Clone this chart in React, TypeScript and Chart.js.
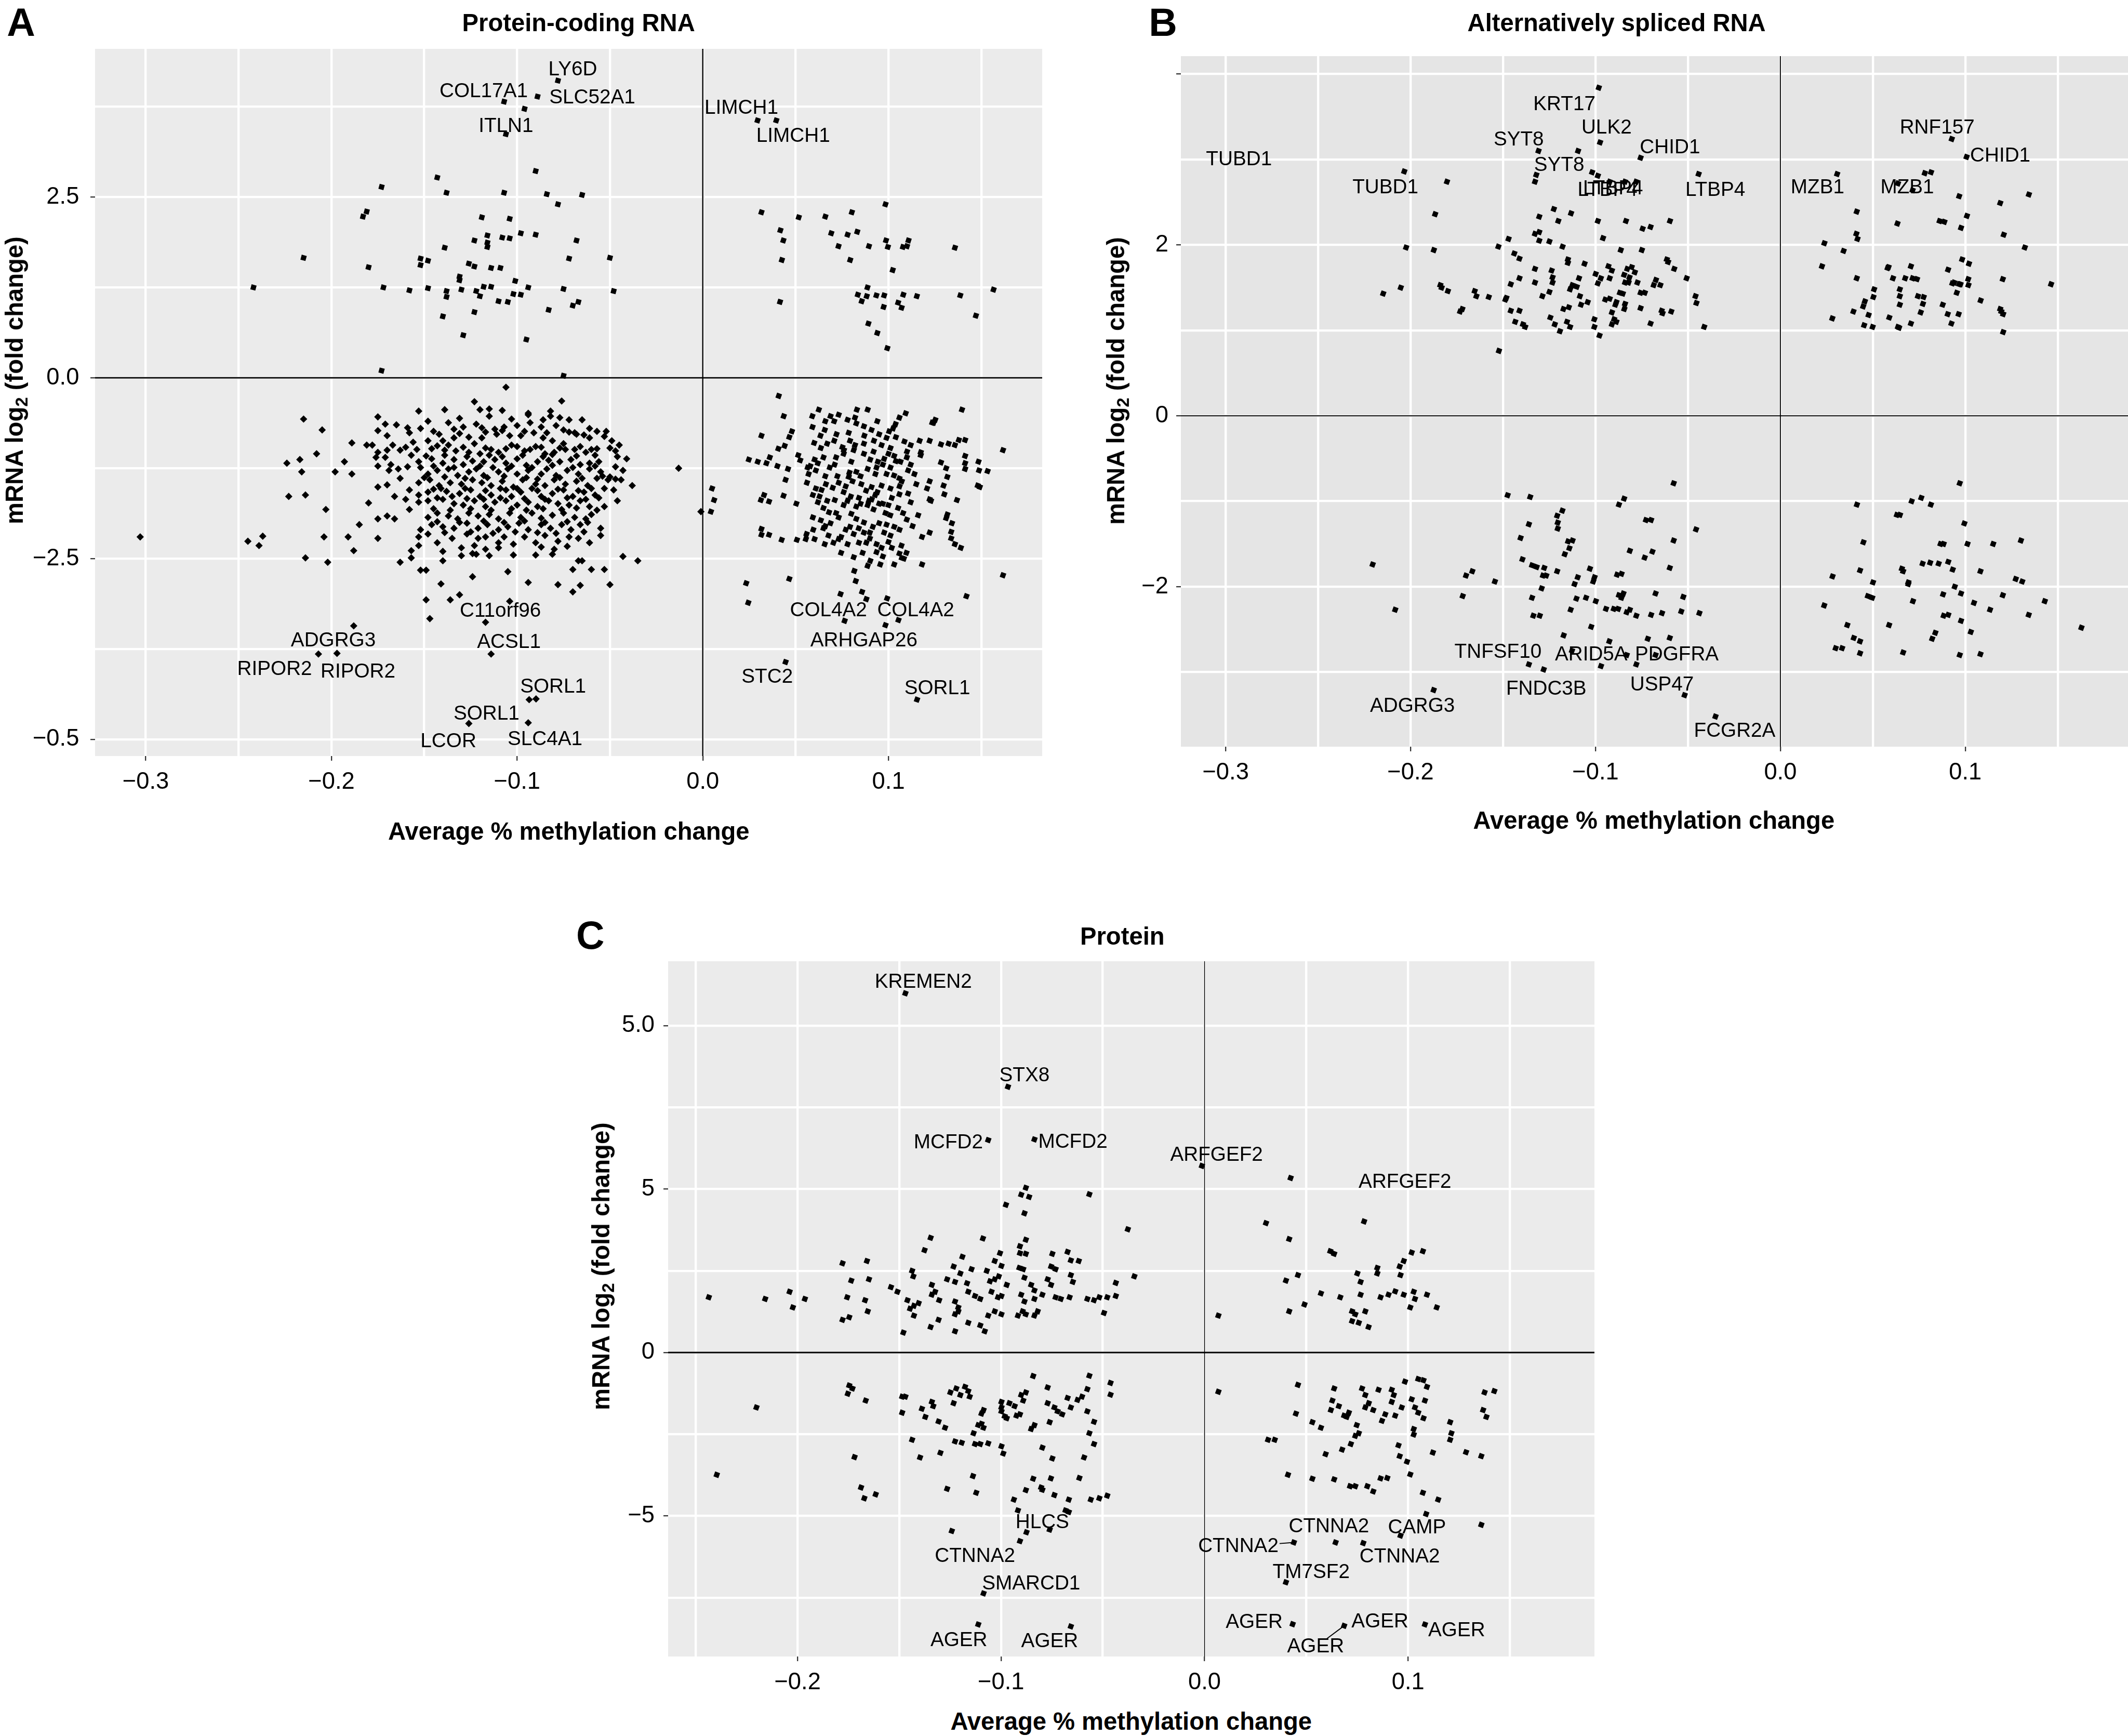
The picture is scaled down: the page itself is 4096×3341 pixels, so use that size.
import React, { useEffect, useRef } from 'react';
import { Chart, registerables } from 'chart.js';

Chart.register(...registerables);

const S = 4096 / 4340;
const FONT = '"Liberation Sans", Arial, Helvetica, sans-serif';

type Pt = [number, number];
type Lbl = { gene: string; x: number; y: number; px?: number; py?: number };

// ---------------- Panel A : Protein-coding RNA ----------------
const A_TOP_LEFT: Pt[] = [
  [-0.078, 4.11], [-0.089, 3.89], [-0.107, 3.82], [-0.096, 3.72], [-0.106, 3.37],
  [-0.090, 2.86], [-0.143, 2.77], [-0.173, 2.64], [-0.138, 2.56], [-0.107, 2.56], [-0.084, 2.54], [-0.065, 2.53], [-0.078, 2.40],
  [-0.181, 2.30], [-0.183, 2.23], [-0.119, 2.22], [-0.104, 2.20], [-0.090, 1.98], [-0.098, 2.00], [-0.108, 1.94], [-0.104, 1.93],
  [-0.116, 1.97], [-0.123, 1.90], [-0.116, 1.87], [-0.116, 1.81], [-0.068, 1.90], [-0.139, 1.80], [-0.215, 1.66],
  [-0.152, 1.65], [-0.148, 1.62], [-0.152, 1.56], [-0.126, 1.58], [-0.123, 1.54], [-0.072, 1.65], [-0.050, 1.66],
  [-0.180, 1.53], [-0.114, 1.52], [-0.109, 1.52], [-0.131, 1.40], [-0.131, 1.35], [-0.101, 1.34], [-0.242, 1.25],
  [-0.172, 1.25], [-0.158, 1.21], [-0.148, 1.24], [-0.138, 1.20], [-0.138, 1.12], [-0.130, 1.22], [-0.122, 1.20],
  [-0.120, 1.13], [-0.118, 1.26], [-0.114, 1.26], [-0.094, 1.25], [-0.075, 1.23], [-0.048, 1.20], [-0.102, 1.16],
  [-0.098, 1.15], [-0.110, 1.06], [-0.105, 1.05], [-0.067, 1.05], [-0.070, 1.00], [-0.083, 0.94], [-0.140, 0.85],
  [-0.123, 0.91], [-0.129, 0.59], [-0.095, 0.53], [-0.173, 0.10], [-0.075, 0.03],
];

const A_TOP_RIGHT: Pt[] = [
  [0.0295, 3.56], [0.0396, 3.56], [0.0316, 2.29], [0.0984, 2.40], [0.0517, 2.22], [0.066, 2.23], [0.0803, 2.29],
  [0.0418, 2.04], [0.0434, 1.90], [0.0692, 2.00], [0.078, 1.98], [0.0832, 2.02], [0.0731, 1.82], [0.0895, 1.82],
  [0.0987, 1.90], [0.0997, 1.81], [0.1078, 1.81], [0.110, 1.82], [0.1108, 1.90], [0.1358, 1.80], [0.0426, 1.63],
  [0.0794, 1.63], [0.1023, 1.49], [0.0887, 1.25], [0.0835, 1.15], [0.0856, 1.06], [0.0883, 1.13], [0.0935, 1.14],
  [0.0977, 1.14], [0.108, 1.15], [0.1052, 1.04], [0.1071, 0.97], [0.0974, 0.98], [0.1153, 1.13], [0.1387, 1.14],
  [0.1566, 1.22], [0.1471, 0.86], [0.0416, 1.05], [0.0892, 0.75], [0.094, 0.62], [0.0994, 0.41],
];

const A_BOTTOM_LEFT: Pt[] = [
  [-0.106, -0.13], [-0.123, -0.33], [-0.076, -0.32],
  [-0.153, -0.46], [-0.139, -0.44], [-0.120, -0.44], [-0.115, -0.43], [-0.108, -0.45], [-0.094, -0.49], [-0.082, -0.46], [-0.072, -0.58], [-0.065, -0.58],
  [-0.175, -0.54], [-0.171, -0.64], [-0.165, -0.65], [-0.159, -0.69], [-0.152, -0.70], [-0.148, -0.60], [-0.137, -0.62], [-0.134, -0.71],
  [-0.129, -0.68], [-0.122, -0.64], [-0.119, -0.69], [-0.115, -0.53], [-0.112, -0.71], [-0.107, -0.68], [-0.100, -0.66], [-0.094, -0.51],
  [-0.093, -0.62], [-0.087, -0.68], [-0.082, -0.53], [-0.079, -0.66], [-0.075, -0.72], [-0.069, -0.76], [-0.061, -0.70], [-0.057, -0.74],
  [-0.175, -0.73], [-0.170, -0.80], [-0.156, -0.89], [-0.148, -0.87], [-0.142, -0.78], [-0.140, -0.87], [-0.134, -0.83], [-0.126, -0.82],
  [-0.123, -0.91], [-0.119, -0.83], [-0.111, -0.78], [-0.104, -0.80], [-0.098, -0.80], [-0.091, -0.76], [-0.086, -0.83], [-0.081, -0.87],
  [-0.075, -0.91], [-0.068, -0.78], [-0.061, -0.83], [-0.053, -0.81], [-0.049, -0.87], [-0.045, -0.93],
  [-0.181, -0.93], [-0.178, -0.93], [-0.175, -1.03], [-0.170, -1.00], [-0.167, -0.93], [-0.163, -1.00], [-0.154, -0.99], [-0.149, -1.08],
  [-0.143, -0.94], [-0.137, -0.93], [-0.133, -1.01], [-0.126, -1.03], [-0.120, -1.05], [-0.114, -0.99], [-0.110, -1.03], [-0.103, -0.93],
  [-0.096, -1.01], [-0.090, -0.95], [-0.085, -1.05], [-0.080, -1.03], [-0.074, -0.99], [-0.069, -0.99], [-0.063, -1.03], [-0.057, -0.98], [-0.047, -1.01],
  [-0.176, -1.10], [-0.171, -1.10], [-0.168, -1.20], [-0.153, -1.16], [-0.146, -1.12], [-0.140, -1.18], [-0.134, -1.13], [-0.129, -1.20],
  [-0.124, -1.15], [-0.118, -1.16], [-0.112, -1.13], [-0.106, -1.18], [-0.100, -1.12], [-0.095, -1.21], [-0.089, -1.16], [-0.083, -1.14],
  [-0.077, -1.16], [-0.071, -1.13], [-0.066, -1.20], [-0.061, -1.18], [-0.056, -1.16], [-0.041, -1.12],
  [-0.175, -1.22], [-0.169, -1.28], [-0.164, -1.26], [-0.152, -1.24], [-0.148, -1.33], [-0.143, -1.28], [-0.137, -1.26], [-0.132, -1.35],
  [-0.126, -1.30], [-0.122, -1.26], [-0.118, -1.35], [-0.110, -1.30], [-0.105, -1.26], [-0.100, -1.33], [-0.094, -1.28], [-0.087, -1.33],
  [-0.084, -1.26], [-0.079, -1.35], [-0.073, -1.28], [-0.067, -1.33], [-0.061, -1.26], [-0.055, -1.30], [-0.050, -1.37], [-0.043, -1.28],
  [-0.175, -1.51], [-0.170, -1.48], [-0.153, -1.45], [-0.147, -1.41], [-0.142, -1.49], [-0.136, -1.45], [-0.130, -1.47], [-0.124, -1.41],
  [-0.119, -1.45], [-0.114, -1.49], [-0.108, -1.43], [-0.102, -1.51], [-0.097, -1.41], [-0.090, -1.47], [-0.085, -1.49], [-0.080, -1.41],
  [-0.074, -1.47], [-0.068, -1.43], [-0.062, -1.49], [-0.057, -1.39], [-0.051, -1.41], [-0.044, -1.41], [-0.038, -1.49],
  [-0.166, -1.64], [-0.153, -1.62], [-0.148, -1.58], [-0.141, -1.53], [-0.135, -1.64], [-0.131, -1.60], [-0.125, -1.55], [-0.120, -1.64],
  [-0.114, -1.62], [-0.109, -1.53], [-0.103, -1.64], [-0.098, -1.58], [-0.092, -1.53], [-0.087, -1.64], [-0.081, -1.60], [-0.075, -1.55],
  [-0.070, -1.64], [-0.064, -1.58], [-0.058, -1.62], [-0.053, -1.53],
  [-0.153, -1.72], [-0.148, -1.70], [-0.140, -1.68], [-0.134, -1.74], [-0.129, -1.76], [-0.123, -1.70], [-0.117, -1.78], [-0.112, -1.72],
  [-0.106, -1.70], [-0.100, -1.76], [-0.094, -1.72], [-0.089, -1.78], [-0.083, -1.70], [-0.078, -1.74], [-0.072, -1.76], [-0.066, -1.70],
  [-0.061, -1.78], [-0.053, -1.78], [-0.046, -1.70],
  [-0.175, -1.95], [-0.170, -1.91], [-0.166, -1.95], [-0.148, -1.93], [-0.143, -1.87], [-0.137, -1.91], [-0.132, -1.95], [-0.126, -1.87],
  [-0.121, -1.91], [-0.115, -1.89], [-0.110, -1.95], [-0.104, -1.87], [-0.098, -1.93], [-0.092, -1.87], [-0.087, -1.94], [-0.081, -1.90],
  [-0.075, -1.87], [-0.069, -1.93], [-0.063, -1.95], [-0.060, -1.89],
  [-0.152, -2.10], [-0.146, -2.03], [-0.140, -2.06], [-0.134, -2.08], [-0.127, -2.01], [-0.121, -2.08], [-0.116, -2.03], [-0.110, -2.10],
  [-0.105, -2.06], [-0.099, -2.01], [-0.094, -2.10], [-0.087, -2.03], [-0.082, -2.08], [-0.076, -2.03], [-0.071, -2.10], [-0.066, -2.03], [-0.055, -2.08],
  [-0.153, -2.20], [-0.148, -2.16], [-0.135, -2.22], [-0.127, -2.16], [-0.121, -2.22], [-0.117, -2.20], [-0.110, -2.28], [-0.107, -2.20],
  [-0.096, -2.20], [-0.090, -2.28], [-0.085, -2.18], [-0.078, -2.26], [-0.072, -2.20], [-0.067, -2.22], [-0.061, -2.28], [-0.055, -2.18],
  [-0.153, -2.32], [-0.143, -2.28], [-0.130, -2.35], [-0.123, -2.32], [-0.117, -2.37], [-0.110, -2.35], [-0.102, -2.30], [-0.087, -2.34],
  [-0.080, -2.37], [-0.073, -2.33],
  [-0.303, -2.20], [-0.245, -2.26], [-0.239, -2.32], [-0.237, -2.19], [-0.214, -2.49], [-0.202, -2.55], [-0.204, -2.20], [-0.191, -2.20],
  [-0.188, -2.39], [-0.185, -2.03], [-0.175, -2.22], [-0.203, -1.82], [-0.223, -1.64], [-0.214, -1.62], [-0.224, -1.18], [-0.217, -1.13],
  [-0.216, -1.30], [-0.208, -1.05], [-0.205, -0.72], [-0.215, -0.57], [-0.198, -1.30], [-0.189, -1.33], [-0.193, -1.16], [-0.189, -0.90],
  [-0.180, -1.73], [-0.163, -2.55], [-0.157, -2.39], [-0.157, -2.49], [-0.152, -2.66], [-0.149, -2.66], [-0.141, -2.85], [-0.149, -3.07],
  [-0.147, -3.33], [-0.136, -3.07], [-0.131, -3.00], [-0.124, -2.75], [-0.104, -3.09], [-0.105, -2.68], [-0.094, -2.83], [-0.078, -2.86],
  [-0.070, -2.96], [-0.066, -2.87], [-0.050, -2.86], [-0.043, -2.47], [-0.035, -2.53], [-0.060, -2.65], [-0.053, -2.65], [-0.013, -1.25],
  [-0.140, -2.40], [-0.140, -2.53], [-0.130, -2.46], [-0.124, -2.43], [-0.122, -2.44], [-0.115, -2.46], [-0.102, -2.45], [-0.090, -2.45],
  [-0.081, -2.44], [-0.070, -2.65], [-0.067, -2.53], [-0.065, -2.53], [-0.001, -1.85],
  [-0.117, -3.38], [-0.188, -3.43], [-0.207, -3.82], [-0.197, -3.81], [-0.114, -3.82], [-0.0935, -4.45], [-0.0898, -4.44],
  [-0.126, -4.78], [-0.094, -4.77],
];

// denser core of the lower-left cloud (points between the rows above)
const A_BOTTOM_LEFT_CORE: Pt[] = [
  [-0.131, -0.56], [-0.103, -0.57], [-0.086, -0.58], [-0.077, -0.55],
  [-0.158, -0.76], [-0.145, -0.74], [-0.131, -0.77], [-0.117, -0.75], [-0.108, -0.73], [-0.096, -0.74], [-0.084, -0.76], [-0.072, -0.75],
  [-0.064, -0.79], [-0.052, -0.74],
  [-0.160, -0.96], [-0.146, -0.98], [-0.139, -1.00], [-0.129, -0.96], [-0.117, -0.97], [-0.106, -0.98], [-0.100, -0.95], [-0.093, -0.99],
  [-0.087, -0.96], [-0.077, -0.97], [-0.066, -0.95], [-0.060, -0.99], [-0.050, -0.97],
  [-0.157, -1.07], [-0.139, -1.07], [-0.127, -1.09], [-0.115, -1.07], [-0.108, -1.09], [-0.097, -1.07], [-0.086, -1.09], [-0.081, -1.06],
  [-0.068, -1.08], [-0.058, -1.07], [-0.046, -1.09],
  [-0.159, -1.23], [-0.145, -1.22], [-0.134, -1.24], [-0.120, -1.22], [-0.113, -1.24], [-0.103, -1.22], [-0.092, -1.24], [-0.081, -1.21],
  [-0.070, -1.24], [-0.058, -1.22], [-0.047, -1.23],
  [-0.163, -1.39], [-0.150, -1.38], [-0.139, -1.37], [-0.128, -1.39], [-0.116, -1.38], [-0.107, -1.36], [-0.095, -1.38], [-0.089, -1.40],
  [-0.077, -1.38], [-0.065, -1.39], [-0.054, -1.36], [-0.047, -1.40],
  [-0.158, -1.55], [-0.145, -1.54], [-0.138, -1.57], [-0.128, -1.53], [-0.117, -1.56], [-0.106, -1.55], [-0.100, -1.53], [-0.089, -1.56],
  [-0.078, -1.54], [-0.067, -1.56], [-0.060, -1.53], [-0.048, -1.55],
  [-0.160, -1.68], [-0.143, -1.66], [-0.127, -1.67], [-0.118, -1.68], [-0.109, -1.66], [-0.096, -1.67], [-0.085, -1.68], [-0.073, -1.66],
  [-0.063, -1.68], [-0.056, -1.66],
  [-0.158, -1.82], [-0.145, -1.81], [-0.136, -1.83], [-0.125, -1.81], [-0.114, -1.83], [-0.103, -1.81], [-0.095, -1.83], [-0.086, -1.81],
  [-0.076, -1.82], [-0.068, -1.80], [-0.057, -1.83],
  [-0.143, -1.99], [-0.131, -2.00], [-0.118, -1.98], [-0.107, -2.00], [-0.096, -1.98], [-0.085, -2.00], [-0.073, -1.99], [-0.062, -2.00],
  [-0.139, -2.14], [-0.125, -2.13], [-0.113, -2.15], [-0.101, -2.13], [-0.089, -2.14], [-0.079, -2.15], [-0.064, -2.13],
];

const A_BOTTOM_RIGHT: Pt[] = [
  [0.0764, -3.36], [0.0984, -3.42], [0.1054, -3.35], [0.0446, -3.93], [0.1154, -4.45],
  [0.005, -1.53], [0.0061, -1.69], [0.0044, -1.85], [0.0409, -0.25], [0.0436, -0.53],
  [0.0248, -1.13], [0.0296, -1.16], [0.0343, -1.18], [0.0361, -1.10], [0.0402, -1.22], [0.0441, -0.94], [0.0407, -0.98],
  [0.0316, -0.80], [0.0466, -0.82], [0.048, -0.74], [0.0446, -1.41], [0.0435, -1.63], [0.0313, -1.69], [0.033, -1.62], [0.0357, -1.71],
  [0.0504, -1.74], [0.0316, -2.09], [0.0316, -2.17], [0.0357, -2.17], [0.0425, -2.24], [0.0507, -2.24], [0.0559, -2.16], [0.0555, -2.23],
  [0.0602, -2.23], [0.0234, -2.84], [0.0245, -3.11], [0.0466, -2.78], [0.0742, -2.99], [0.0816, -2.67], [0.0824, -2.81], [0.0858, -2.96],
  [0.0881, -3.06], [0.0993, -3.05], [0.142, -3.02], [0.1617, -2.73], [0.1617, -1.00], [0.1396, -0.44], [0.1181, -2.58], [0.1031, -2.58],
  [0.1083, -2.50], [0.1097, -2.42], [0.1358, -2.30], [0.139, -2.35], [0.1338, -2.22], [0.1317, -1.89], [0.1311, -1.94], [0.1342, -2.01],
  [0.1338, -2.13], [0.1369, -1.69], [0.1481, -1.49], [0.1492, -1.51], [0.1485, -1.16], [0.1488, -1.28], [0.1534, -1.29], [0.1413, -1.08],
  [0.1413, -1.18], [0.1413, -1.26], [0.1283, -0.92], [0.1324, -0.91], [0.1358, -0.93], [0.1379, -0.86], [0.1413, -0.86], [0.1236, -0.62],
  [0.1252, -0.58], [0.1283, -1.17], [0.1311, -1.25], [0.1317, -1.37], [0.1297, -1.49], [0.1301, -1.61],
  [0.059, -0.53], [0.0625, -0.44], [0.0688, -0.53], [0.0732, -0.51], [0.083, -0.44], [0.0888, -0.44], [0.082, -0.55], [0.1059, -0.55],
  [0.1093, -0.49], [0.1038, -0.64],
  [0.0591, -0.68], [0.0634, -0.80], [0.0708, -0.60], [0.0786, -0.76], [0.0827, -0.63], [0.0868, -0.67], [0.0909, -0.72], [0.095, -0.78],
  [0.1004, -0.74], [0.1025, -0.70], [0.099, -0.83], [0.0657, -0.72], [0.1243, -0.62],
  [0.0708, -0.87], [0.0752, -0.96], [0.0793, -0.87], [0.082, -0.93], [0.0868, -0.91], [0.0922, -0.87], [0.0963, -0.93], [0.1011, -0.97],
  [0.1086, -0.88], [0.112, -0.93], [0.1168, -0.87], [0.1222, -0.87], [0.0636, -0.97], [0.067, -0.91], [0.0514, -1.07],
  [0.0525, -1.14], [0.0579, -1.22], [0.0602, -1.13], [0.065, -1.10], [0.0718, -1.10], [0.0759, -1.05], [0.0813, -1.00], [0.0868, -1.05],
  [0.0902, -1.13], [0.0943, -1.16], [0.0977, -1.12], [0.1031, -1.08], [0.1065, -1.16], [0.1099, -1.10], [0.1174, -1.03], [0.1174, -1.07],
  [0.0459, -1.26], [0.0565, -1.24], [0.0609, -1.28], [0.0684, -1.24], [0.0725, -1.36], [0.0786, -1.37], [0.0827, -1.30], [0.0888, -1.26],
  [0.0936, -1.24], [0.099, -1.33], [0.1011, -1.24], [0.1059, -1.39], [0.1106, -1.28], [0.112, -1.20],
  [0.0561, -1.45], [0.0609, -1.53], [0.0663, -1.47], [0.0732, -1.45], [0.0807, -1.43], [0.0854, -1.47], [0.0909, -1.51], [0.0963, -1.49],
  [0.1011, -1.53], [0.1072, -1.43], [0.1208, -1.53], [0.1222, -1.43],
  [0.0593, -1.62], [0.0629, -1.64], [0.067, -1.70], [0.0711, -1.69], [0.0759, -1.58], [0.0797, -1.64], [0.0841, -1.66], [0.0895, -1.70],
  [0.0929, -1.62], [0.097, -1.74], [0.1018, -1.66], [0.1059, -1.61], [0.1106, -1.60], [0.1222, -1.68],
  [0.065, -1.80], [0.0718, -1.87], [0.0759, -1.76], [0.0827, -1.78], [0.0888, -1.76], [0.095, -1.74], [0.0984, -1.87], [0.1052, -1.80],
  [0.1079, -1.87], [0.1229, -1.70],
  [0.0593, -1.93], [0.0636, -1.97], [0.0688, -2.01], [0.0732, -1.93], [0.0793, -2.06], [0.0827, -1.95], [0.0868, -2.00], [0.0916, -2.06],
  [0.095, -2.01], [0.099, -2.03], [0.1031, -2.06], [0.1099, -1.96],
  [0.0595, -2.10], [0.065, -2.08], [0.0677, -2.18], [0.0745, -2.20], [0.0813, -2.16], [0.0868, -2.14], [0.0977, -2.14], [0.1011, -2.18],
  [0.1181, -2.20], [0.1222, -2.14],
  [0.0657, -2.30], [0.0704, -2.28], [0.0732, -2.23], [0.0841, -2.28], [0.0881, -2.28], [0.0936, -2.30], [0.0963, -2.35], [0.1018, -2.35],
  [0.0745, -2.42], [0.0813, -2.48], [0.0861, -2.42], [0.0902, -2.53], [0.0888, -2.60], [0.0936, -2.41], [0.097, -2.47], [0.0956, -2.58],
  [0.1059, -2.43], [0.1072, -2.49],
];

// denser core of the lower-right cloud
const A_BOTTOM_RIGHT_CORE: Pt[] = [
  [0.066, -0.60], [0.078, -0.58], [0.094, -0.60], [0.072, -0.78], [0.087, -0.80], [0.104, -0.82], [0.060, -0.90], [0.076, -1.00],
  [0.092, -1.02], [0.100, -1.05], [0.110, -1.02], [0.062, -1.18], [0.071, -1.20], [0.080, -1.16], [0.097, -1.20], [0.104, -1.15],
  [0.057, -1.33], [0.066, -1.36], [0.079, -1.31], [0.085, -1.36], [0.093, -1.33], [0.103, -1.35], [0.114, -1.33],
  [0.064, -1.55], [0.070, -1.52], [0.077, -1.50], [0.088, -1.56], [0.094, -1.58], [0.106, -1.50], [0.115, -1.47],
  [0.062, -1.72], [0.078, -1.70], [0.085, -1.74], [0.091, -1.68], [0.100, -1.76], [0.112, -1.72],
  [0.068, -1.86], [0.080, -1.88], [0.092, -1.82], [0.101, -1.90], [0.116, -1.90],
  [0.066, -2.05], [0.077, -2.10], [0.084, -2.08], [0.090, -2.14], [0.106, -2.10], [0.113, -2.05],
  [0.078, -2.30], [0.090, -2.22], [0.100, -2.27], [0.107, -2.32],
];

const A_LABELS: Lbl[] = [
  { gene: 'LY6D', x: -0.070, y: 4.26 }, { gene: 'COL17A1', x: -0.118, y: 3.96 },
  { gene: 'SLC52A1', x: -0.0595, y: 3.87 }, { gene: 'ITLN1', x: -0.106, y: 3.48 },
  { gene: 'LIMCH1', x: 0.0208, y: 3.73 }, { gene: 'LIMCH1', x: 0.0487, y: 3.34 },
  { gene: 'C11orf96', x: -0.109, y: -3.23 }, { gene: 'ADGRG3', x: -0.199, y: -3.64 },
  { gene: 'RIPOR2', x: -0.2306, y: -4.03 }, { gene: 'RIPOR2', x: -0.1857, y: -4.07 },
  { gene: 'ACSL1', x: -0.1044, y: -3.66 }, { gene: 'SORL1', x: -0.0806, y: -4.28 },
  { gene: 'SORL1', x: -0.1165, y: -4.65 }, { gene: 'LCOR', x: -0.137, y: -5.03 },
  { gene: 'SLC4A1', x: -0.085, y: -5.0 }, { gene: 'COL4A2', x: 0.0677, y: -3.22 },
  { gene: 'COL4A2', x: 0.1147, y: -3.22 }, { gene: 'ARHGAP26', x: 0.0868, y: -3.64 },
  { gene: 'STC2', x: 0.0347, y: -4.14 }, { gene: 'SORL1', x: 0.1263, y: -4.30 },
];

// ---------------- Panel B : Alternatively spliced RNA ----------------
const B_TOP_LEFT: Pt[] = [
  [-0.2034, 2.86], [-0.1803, 2.74], [-0.0982, 3.84], [-0.0975, 3.20], [-0.1308, 3.10], [-0.1094, 3.10], [-0.132, 2.82], [-0.1327, 2.74],
  [-0.0756, 3.02], [-0.1018, 2.85], [-0.0987, 2.81], [-0.0923, 2.74], [-0.084, 2.74], [-0.078, 2.74], [-0.0442, 2.83],
  [-0.1867, 2.36], [-0.1874, 1.94], [-0.2024, 1.97], [-0.2148, 1.43], [-0.2053, 1.50], [-0.1839, 1.53], [-0.1832, 1.50], [-0.1798, 1.46],
  [-0.1653, 1.46], [-0.1644, 1.40], [-0.1577, 1.39], [-0.1732, 1.22], [-0.172, 1.25], [-0.1525, 1.98], [-0.1522, 0.76], [-0.147, 2.07],
  [-0.1439, 1.90], [-0.1411, 1.84], [-0.1458, 1.54], [-0.1411, 1.61], [-0.1482, 1.38], [-0.1487, 1.36], [-0.1458, 1.23], [-0.1411, 1.23],
  [-0.1434, 1.10], [-0.1392, 1.07], [-0.138, 1.04], [-0.1327, 1.72], [-0.1327, 1.56], [-0.1304, 2.33], [-0.1327, 2.13], [-0.1304, 2.15],
  [-0.1304, 2.05], [-0.1249, 2.04], [-0.1225, 2.42], [-0.1201, 2.28], [-0.1132, 2.37], [-0.1178, 1.98], [-0.1237, 1.70], [-0.1232, 1.62],
  [-0.1232, 1.56], [-0.1287, 1.40], [-0.1249, 1.45], [-0.1149, 1.83], [-0.1149, 1.79], [-0.1059, 1.78], [-0.1137, 1.48], [-0.1125, 1.53],
  [-0.1089, 1.61], [-0.1101, 1.51], [-0.1084, 1.40], [-0.1078, 1.30], [-0.1042, 1.33], [-0.1173, 1.25], [-0.1144, 1.27], [-0.1244, 1.15],
  [-0.122, 1.07], [-0.1192, 0.99], [-0.1154, 1.10], [-0.1137, 1.04], [-0.1006, 1.13], [-0.1006, 1.04], [-0.0978, 0.94], [-0.0987, 2.28],
  [-0.0959, 2.08], [-0.0835, 2.28], [-0.0863, 1.94], [-0.0749, 1.94], [-0.0745, 2.19], [-0.0702, 2.21], [-0.0597, 2.28], [-0.0607, 1.80],
  [-0.0614, 1.83], [-0.0574, 1.72], [-0.0507, 1.61], [-0.0459, 1.40], [-0.0454, 1.32], [-0.0412, 1.04], [-0.0999, 1.66], [-0.0987, 1.55],
  [-0.0971, 1.61], [-0.0930, 1.75], [-0.0911, 1.70], [-0.0923, 1.61], [-0.0947, 1.36], [-0.0923, 1.37], [-0.0887, 1.33], [-0.0868, 1.44],
  [-0.0852, 1.43], [-0.084, 1.56], [-0.0821, 1.56], [-0.0845, 1.65], [-0.0828, 1.72], [-0.0804, 1.74], [-0.0816, 1.62], [-0.0787, 1.68],
  [-0.0773, 1.56], [-0.084, 1.31], [-0.0844, 1.25], [-0.0892, 1.30], [-0.0911, 1.21], [-0.0899, 1.13], [-0.0911, 1.07], [-0.0887, 1.10],
  [-0.0756, 1.44], [-0.0733, 1.44], [-0.0685, 1.53], [-0.0649, 1.53], [-0.0673, 1.59], [-0.0756, 1.26], [-0.0642, 1.23], [-0.0637, 1.20],
  [-0.059, 1.22], [-0.0702, 1.08],
];

const B_TOP_RIGHT: Pt[] = [
  [0.0927, 3.24], [0.1007, 3.03], [0.0307, 2.83], [0.0636, 2.72], [0.0715, 2.64], [0.0781, 2.84], [0.0815, 2.85], [0.0967, 2.57],
  [0.1189, 2.49], [0.1344, 2.59], [0.0413, 2.39], [0.0411, 2.13], [0.0417, 2.07], [0.0238, 2.02], [0.0342, 1.93], [0.0225, 1.75],
  [0.0413, 1.61], [0.0633, 2.25], [0.0861, 2.28], [0.0887, 2.27], [0.1009, 2.34], [0.0977, 2.20], [0.1208, 2.12], [0.1322, 1.97],
  [0.058, 1.73], [0.0585, 1.74], [0.0609, 1.61], [0.0675, 1.61], [0.0706, 1.75], [0.0715, 1.61], [0.0739, 1.60], [0.0907, 1.71],
  [0.0983, 1.83], [0.102, 1.78], [0.1016, 1.60], [0.1017, 1.53], [0.093, 1.55], [0.094, 1.56], [0.0967, 1.54], [0.0974, 1.54],
  [0.0954, 1.44], [0.1203, 1.60], [0.1464, 1.54], [0.0507, 1.48], [0.0503, 1.39], [0.0457, 1.34], [0.0448, 1.28], [0.0395, 1.22],
  [0.0281, 1.14], [0.0477, 1.18], [0.0453, 1.06], [0.0499, 1.04], [0.0646, 1.48], [0.0646, 1.40], [0.0646, 1.30], [0.0589, 1.15],
  [0.0636, 1.04], [0.0642, 1.03], [0.0706, 1.08], [0.0744, 1.40], [0.0775, 1.39], [0.0771, 1.31], [0.0759, 1.21], [0.0878, 1.30],
  [0.0905, 1.19], [0.0964, 1.19], [0.0925, 1.08], [0.1083, 1.35], [0.1189, 1.25], [0.1195, 1.22], [0.1205, 1.19], [0.1205, 0.98],
];

const B_BOTTOM_LEFT: Pt[] = [
  [-0.136, -2.91], [-0.1127, -2.75], [-0.0831, -2.80], [-0.097, -2.93], [-0.0779, -2.91], [-0.0675, -2.80], [-0.128, -2.97],
  [-0.0518, -3.27], [-0.1875, -3.21], [-0.0351, -3.52],
  [-0.2205, -1.74], [-0.2083, -2.27], [-0.1718, -2.11], [-0.170, -1.87], [-0.1666, -1.82], [-0.1544, -1.94], [-0.1475, -0.93],
  [-0.1353, -0.95], [-0.1395, -1.68], [-0.1343, -1.75], [-0.1318, -1.77], [-0.1405, -1.43], [-0.136, -1.27], [-0.1277, -1.78],
  [-0.1284, -1.87], [-0.1266, -1.87], [-0.1291, -2.02], [-0.1343, -2.13], [-0.1336, -2.34], [-0.1301, -2.34], [-0.1207, -1.82],
  [-0.1207, -1.17], [-0.1179, -1.11], [-0.1204, -1.25], [-0.1204, -1.32], [-0.1148, -1.47], [-0.1124, -1.46], [-0.1141, -1.55],
  [-0.1166, -1.62], [-0.1096, -1.89], [-0.1113, -1.97], [-0.1030, -1.79], [-0.1005, -1.89], [-0.1012, -1.94], [-0.1103, -2.14],
  [-0.1051, -2.13], [-0.0998, -2.17], [-0.1134, -2.27], [-0.1023, -2.47], [-0.1172, -2.57], [-0.0925, -2.64], [-0.0883, -1.86],
  [-0.0859, -1.85], [-0.0943, -2.26], [-0.0901, -2.26], [-0.0877, -2.26], [-0.0831, -2.30], [-0.0814, -2.27], [-0.0873, -2.10],
  [-0.0849, -2.08], [-0.0859, -2.13], [-0.0779, -2.34], [-0.0873, -1.04], [-0.0845, -0.97], [-0.0814, -1.58], [-0.0727, -1.22],
  [-0.0699, -1.22], [-0.0734, -1.66], [-0.0692, -1.59], [-0.0675, -2.08], [-0.0699, -2.33], [-0.0640, -2.31], [-0.0598, -1.78],
  [-0.0577, -1.46], [-0.0577, -0.79], [-0.0525, -2.12], [-0.0536, -2.29], [-0.0438, -2.31], [-0.0456, -1.33], [-0.0717, -2.61],
  [-0.0598, -2.60],
];

const B_BOTTOM_RIGHT: Pt[] = [
  [0.097, -0.79], [0.0414, -1.04], [0.063, -1.16], [0.0647, -1.16], [0.071, -1.00], [0.0762, -0.96], [0.0814, -1.04], [0.0995, -1.26],
  [0.0449, -1.48], [0.0866, -1.50], [0.0883, -1.50], [0.1012, -1.50], [0.1151, -1.50], [0.1301, -1.46], [0.0769, -1.73], [0.081, -1.72],
  [0.0856, -1.73], [0.0908, -1.71], [0.0657, -1.79], [0.0664, -1.82], [0.0431, -1.81], [0.0282, -1.88], [0.0932, -1.80], [0.1082, -1.82],
  [0.0501, -1.95], [0.0692, -1.95], [0.0692, -1.97], [0.0943, -2.00], [0.1273, -1.91], [0.1308, -1.94], [0.0473, -2.11], [0.0497, -2.13],
  [0.0717, -2.17], [0.0880, -2.09], [0.0977, -2.08], [0.1203, -2.10], [0.0237, -2.22], [0.1047, -2.19], [0.143, -2.17], [0.0883, -2.34],
  [0.0908, -2.33], [0.1134, -2.27], [0.1343, -2.33], [0.0362, -2.45], [0.0588, -2.45], [0.0977, -2.40], [0.1628, -2.48], [0.0838, -2.54],
  [0.0821, -2.61], [0.103, -2.53], [0.0397, -2.60], [0.0431, -2.64], [0.0299, -2.72], [0.0334, -2.72], [0.0431, -2.78], [0.0664, -2.77],
  [0.097, -2.80], [0.1082, -2.79],
];

const B_LABELS: Lbl[] = [
  { gene: 'TUBD1', x: -0.2928, y: 3.00 }, { gene: 'TUBD1', x: -0.2136, y: 2.67 },
  { gene: 'KRT17', x: -0.1168, y: 3.64 }, { gene: 'ULK2', x: -0.094, y: 3.37 },
  { gene: 'SYT8', x: -0.1415, y: 3.23 }, { gene: 'SYT8', x: -0.1196, y: 2.93 },
  { gene: 'CHID1', x: -0.0597, y: 3.14 }, { gene: 'LTBP4', x: -0.0935, y: 2.64 },
  { gene: 'LTBP4', x: -0.0905, y: 2.66 }, { gene: 'LTBP4', x: -0.0352, y: 2.64 },
  { gene: 'MZB1', x: 0.0201, y: 2.67 }, { gene: 'MZB1', x: 0.0686, y: 2.67 },
  { gene: 'RNF157', x: 0.0848, y: 3.37 }, { gene: 'CHID1', x: 0.1189, y: 3.04 },
  { gene: 'TNFSF10', x: -0.1527, y: -2.77 }, { gene: 'ARID5A', x: -0.1023, y: -2.80 },
  { gene: 'PDGFRA', x: -0.056, y: -2.80 }, { gene: 'FNDC3B', x: -0.1266, y: -3.20 },
  { gene: 'USP47', x: -0.064, y: -3.15 }, { gene: 'ADGRG3', x: -0.199, y: -3.40 },
  { gene: 'FCGR2A', x: -0.0247, y: -3.69 },
];

// ---------------- Panel C : Protein ----------------
const C_TOP_LEFT: Pt[] = [
  [-0.147, 10.99], [-0.0966, 8.13], [-0.1063, 6.50], [-0.0836, 6.52], [-0.0013, 5.71],
  [-0.0878, 5.04], [-0.0901, 4.83], [-0.0862, 4.76], [-0.0976, 4.52], [-0.0885, 4.26], [-0.0566, 4.84], [-0.0377, 3.77], [-0.1346, 3.51],
  [-0.1089, 3.49], [-0.0878, 3.45], [-0.1376, 3.13], [-0.0907, 3.25], [-0.0878, 3.02], [-0.0907, 3.04], [-0.1005, 3.04], [-0.0748, 3.02],
  [-0.0673, 3.08], [-0.0657, 2.82], [-0.0618, 2.80], [-0.119, 2.93], [-0.1779, 2.73], [-0.1659, 2.80], [-0.1031, 2.80], [-0.1233, 2.63],
  [-0.12, 2.42], [-0.1145, 2.55], [-0.107, 2.50], [-0.0998, 2.65], [-0.091, 2.59], [-0.0891, 2.55], [-0.0754, 2.63], [-0.0732, 2.55],
  [-0.1437, 2.50], [-0.1431, 2.33], [-0.1736, 2.20], [-0.1649, 2.24], [-0.134, 2.07], [-0.1324, 1.86], [-0.1265, 2.24], [-0.1226, 2.16],
  [-0.1167, 2.12], [-0.1161, 1.86], [-0.1054, 2.18], [-0.1031, 2.24], [-0.1011, 2.33], [-0.0972, 2.07], [-0.0885, 2.29], [-0.0852, 2.07],
  [-0.0836, 1.90], [-0.0771, 2.24], [-0.0754, 2.07], [-0.0657, 2.37], [-0.0647, 2.16], [-0.0436, 2.13], [-0.0345, 2.33], [-0.1541, 2.00],
  [-0.1509, 1.86], [-0.1756, 1.69], [-0.1668, 1.60], [-0.146, 1.60], [-0.1428, 1.43], [-0.1405, 1.51], [-0.134, 1.77], [-0.1304, 1.60],
  [-0.1226, 1.56], [-0.121, 1.38], [-0.1128, 1.73], [-0.1102, 1.64], [-0.1047, 1.86], [-0.1015, 1.69], [-0.0998, 1.73], [-0.0901, 1.77],
  [-0.0885, 1.56], [-0.0836, 1.64], [-0.0797, 1.77], [-0.0732, 1.69], [-0.0706, 1.64], [-0.0663, 1.69], [-0.0576, 1.64], [-0.0543, 1.60],
  [-0.0517, 1.69], [-0.0478, 1.69], [-0.0436, 1.73], [-0.2436, 1.69], [-0.2159, 1.64], [-0.2039, 1.86], [-0.2023, 1.38], [-0.1964, 1.64],
  [-0.1779, 1.00], [-0.1746, 1.08], [-0.1655, 1.26], [-0.148, 0.61], [-0.1447, 1.34], [-0.1428, 1.13], [-0.1346, 0.78], [-0.1307, 1.00],
  [-0.1226, 1.17], [-0.121, 1.26], [-0.1226, 0.65], [-0.1161, 0.91], [-0.1102, 0.83], [-0.108, 0.65], [-0.1063, 1.13], [-0.1031, 1.26],
  [-0.0998, 1.17], [-0.0917, 1.13], [-0.0894, 1.26], [-0.0878, 1.17], [-0.0836, 1.13], [-0.082, 1.26], [-0.0494, 1.21],
];

const C_TOP_RIGHT: Pt[] = [
  [0.0423, 5.34], [0.0302, 3.96], [0.0784, 4.01], [0.0416, 3.47], [0.0618, 3.10], [0.0637, 3.02], [0.1018, 3.06], [0.1073, 3.10],
  [0.0979, 2.80], [0.0959, 2.63], [0.0849, 2.59], [0.0849, 2.42], [0.0751, 2.42], [0.0767, 2.16], [0.0963, 2.37], [0.0459, 2.37],
  [0.04, 2.20], [0.0572, 1.81], [0.0491, 1.47], [0.0416, 1.26], [0.0667, 1.69], [0.0767, 1.77], [0.0865, 1.69], [0.0904, 1.77],
  [0.0937, 1.87], [0.0979, 1.77], [0.1028, 1.86], [0.1034, 1.64], [0.1093, 1.77], [0.1011, 1.38], [0.1141, 1.38], [0.0725, 1.26],
  [0.0741, 1.17], [0.079, 1.26], [0.0725, 0.96], [0.0758, 0.91], [0.0806, 0.78], [0.0068, 1.13],
];

const C_BOTTOM_LEFT: Pt[] = [
  [-0.0761, -5.42], [-0.0875, -5.50], [-0.0907, -5.77], [-0.1086, -7.37], [-0.1112, -8.32], [-0.0657, -8.38], [-0.1242, -5.46],
  [-0.2397, -3.74], [-0.2202, -1.68], [-0.1746, -1.01], [-0.173, -1.10], [-0.1753, -1.26], [-0.1665, -1.47], [-0.172, -3.20],
  [-0.1688, -4.13], [-0.1672, -4.46], [-0.1616, -4.34], [-0.1486, -1.35], [-0.147, -1.35], [-0.1486, -1.84], [-0.1437, -2.67],
  [-0.1398, -3.21], [-0.1389, -1.72], [-0.1372, -1.97], [-0.134, -1.51], [-0.1333, -1.64], [-0.1307, -2.11], [-0.1275, -2.30],
  [-0.1298, -3.07], [-0.1265, -4.17], [-0.1249, -1.22], [-0.1233, -1.55], [-0.122, -1.10], [-0.12, -1.30], [-0.1177, -1.05],
  [-0.1161, -1.18], [-0.1154, -1.35], [-0.1226, -2.72], [-0.1193, -2.76], [-0.1135, -2.47], [-0.1112, -2.22], [-0.1096, -2.18],
  [-0.1086, -2.30], [-0.1128, -2.80], [-0.1102, -2.80], [-0.1063, -2.78], [-0.1138, -3.78], [-0.1122, -4.29], [-0.1096, -1.87],
  [-0.1086, -1.76], [-0.0998, -1.51], [-0.0998, -1.68], [-0.0998, -1.80], [-0.0982, -1.95], [-0.0998, -2.87], [-0.0989, -3.09],
  [-0.0959, -1.55], [-0.0933, -1.64], [-0.0972, -2.01], [-0.0924, -1.93], [-0.0907, -1.89], [-0.0901, -1.30], [-0.0891, -1.47],
  [-0.0878, -1.22], [-0.0842, -0.72], [-0.0852, -2.34], [-0.0836, -2.22], [-0.0797, -2.91], [-0.0771, -1.07], [-0.0771, -1.55],
  [-0.0761, -2.13], [-0.0748, -3.24], [-0.0738, -1.68], [-0.0722, -1.80], [-0.0699, -1.89], [-0.0673, -1.39], [-0.0657, -1.68],
  [-0.0624, -1.45], [-0.0602, -1.35], [-0.0592, -3.21], [-0.0576, -1.12], [-0.0576, -1.80], [-0.0566, -0.71], [-0.0566, -2.47],
  [-0.0543, -2.12], [-0.0543, -2.80], [-0.0462, -0.93], [-0.0462, -1.29], [-0.0937, -4.50], [-0.0917, -4.83], [-0.0878, -4.21],
  [-0.0803, -4.13], [-0.0842, -3.86], [-0.0755, -3.85], [-0.0797, -4.20], [-0.0738, -4.36], [-0.0667, -4.50], [-0.0615, -3.84],
  [-0.0559, -4.50], [-0.0517, -4.46], [-0.0478, -4.38], [-0.0683, -4.83], [-0.0667, -4.88],
];

const C_BOTTOM_RIGHT: Pt[] = [
  [0.0644, -5.81], [0.0963, -5.60], [0.0439, -5.81], [0.078, -5.83], [0.04, -7.03], [0.0433, -8.31], [0.0686, -8.36], [0.1083, -8.32],
  [0.136, -5.27], [0.1089, -4.94],
  [0.0068, -1.20], [0.0459, -0.99], [0.0449, -1.87], [0.053, -2.13], [0.0572, -2.30], [0.0312, -2.67], [0.0345, -2.67], [0.041, -3.74],
  [0.053, -3.86], [0.0637, -3.88], [0.0595, -3.11], [0.0676, -2.97], [0.0719, -2.80], [0.0637, -1.10], [0.0628, -1.47], [0.0660, -1.64],
  [0.0621, -1.76], [0.0686, -1.93], [0.0709, -1.84], [0.0699, -1.97], [0.0748, -2.22], [0.0758, -2.47], [0.0741, -2.55], [0.0774, -1.10],
  [0.079, -1.30], [0.0807, -1.55], [0.079, -1.68], [0.0829, -1.76], [0.0855, -1.14], [0.0872, -2.09], [0.0888, -1.89], [0.092, -1.14],
  [0.093, -1.30], [0.092, -1.51], [0.0937, -1.93], [0.0969, -1.68], [0.0985, -0.89], [0.1018, -1.43], [0.1034, -1.68], [0.105, -1.84],
  [0.1076, -2.01], [0.105, -0.81], [0.1076, -0.85], [0.1093, -1.05], [0.1083, -1.47], [0.1028, -2.34], [0.1028, -2.51], [0.0953, -2.84],
  [0.0959, -3.17], [0.0995, -3.34], [0.1011, -3.73], [0.0865, -3.85], [0.0898, -3.84], [0.08, -4.09], [0.0829, -4.25], [0.0715, -4.09],
  [0.0741, -4.09], [0.1122, -3.06], [0.1207, -2.13], [0.1213, -2.47], [0.1207, -2.67], [0.1285, -3.05], [0.136, -3.17], [0.1369, -1.76],
  [0.1385, -1.97], [0.1376, -1.22], [0.1424, -1.18], [0.1073, -4.29], [0.1148, -4.50],
];

const C_LABELS: Lbl[] = [
  { gene: 'KREMEN2', x: -0.1382, y: 11.33 }, { gene: 'STX8', x: -0.0885, y: 8.46 },
  { gene: 'MCFD2', x: -0.1259, y: 6.41 }, { gene: 'MCFD2', x: -0.0647, y: 6.43 },
  { gene: 'ARFGEF2', x: 0.0059, y: 6.03 }, { gene: 'ARFGEF2', x: 0.0985, y: 5.21 },
  { gene: 'HLCS', x: -0.0797, y: -5.21 }, { gene: 'CTNNA2', x: -0.1128, y: -6.23 },
  { gene: 'SMARCD1', x: -0.0852, y: -7.08 }, { gene: 'AGER', x: -0.1207, y: -8.82 },
  { gene: 'AGER', x: -0.0761, y: -8.85 }, { gene: 'CTNNA2', x: 0.0611, y: -5.33 },
  { gene: 'CAMP', x: 0.1044, y: -5.37 }, { gene: 'CTNNA2', x: 0.0166, y: -5.94, px: 0.0439, py: -5.81 },
  { gene: 'CTNNA2', x: 0.0959, y: -6.26 }, { gene: 'TM7SF2', x: 0.0524, y: -6.73 },
  { gene: 'AGER', x: 0.0244, y: -8.26 }, { gene: 'AGER', x: 0.0862, y: -8.24 },
  { gene: 'AGER', x: 0.0546, y: -9.01, px: 0.0686, py: -8.36 }, { gene: 'AGER', x: 0.1239, y: -8.51 },
];

// ---------------- Axis ticks ----------------
const X_MAJOR_AB = [-0.3, -0.2, -0.1, 0, 0.1];
const X_TEXT_AB = ['\u22120.3', '\u22120.2', '\u22120.1', '0.0', '0.1'];
const X_MINOR_AB = [-0.25, -0.15, -0.05, 0.05, 0.15];
const Y_MAJOR_A = [-5, -2.5, 0, 2.5];
const Y_TEXT_A = ['\u22120.5', '\u22122.5', '0.0', '2.5'];
const Y_MINOR_A = [-3.75, -1.25, 1.25, 3.75];
const Y_MAJOR_B = [-2, 0, 2, 4];
const Y_TEXT_B = ['\u22122', '0', '2', ''];
const Y_MINOR_B = [-3, -1, 1, 3];
const X_MAJOR_C = [-0.2, -0.1, 0, 0.1];
const X_TEXT_C = ['\u22120.2', '\u22120.1', '0.0', '0.1'];
const X_MINOR_C = [-0.25, -0.15, -0.05, 0.05, 0.15];
const Y_MAJOR_C = [-5, 0, 5, 10];
const Y_TEXT_C = ['\u22125', '0', '5', '5.0'];
const Y_MINOR_C = [-7.5, -2.5, 2.5, 7.5];

type PanelDef = {
  canvas: [number, number, number, number];
  area: [number, number, number, number];
  xRange: [number, number];
  yRange: [number, number];
  xMajor: number[]; xText: string[]; xMinor: number[];
  yMajor: number[]; yText: string[]; yMinor: number[];
  bg: string;
  series: { pts: Pt[]; rot: number }[];
  labels: Lbl[];
  yPad: number;
  zero: [number, number];
};

const PANELS: PanelDef[] = [
  {
    canvas: [0, 0, 2200, 1700], area: [194, 100, 2125, 1542],
    xRange: [-0.3273, 0.1828], yRange: [-5.23, 4.55],
    xMajor: X_MAJOR_AB, xText: X_TEXT_AB, xMinor: X_MINOR_AB,
    yMajor: Y_MAJOR_A, yText: Y_TEXT_A, yMinor: Y_MINOR_A,
    bg: '#EBEBEB',
    series: [
      { pts: A_TOP_LEFT, rot: 15 }, { pts: A_TOP_RIGHT, rot: 18 },
      { pts: A_BOTTOM_LEFT, rot: 45 }, { pts: A_BOTTOM_LEFT_CORE, rot: 45 },
      { pts: A_BOTTOM_RIGHT, rot: 20 }, { pts: A_BOTTOM_RIGHT_CORE, rot: 20 },
    ],
    labels: A_LABELS, yPad: 23, zero: [3, 2.5],
  },
  {
    canvas: [2200, 0, 4340, 1700], area: [2408, 114, 4340, 1523],
    xRange: [-0.3242, 0.188], yRange: [-3.873, 4.21],
    xMajor: X_MAJOR_AB, xText: X_TEXT_AB, xMinor: X_MINOR_AB,
    yMajor: Y_MAJOR_B, yText: Y_TEXT_B, yMinor: Y_MINOR_B,
    bg: '#E5E5E5',
    series: [
      { pts: B_TOP_LEFT, rot: 20 }, { pts: B_TOP_RIGHT, rot: 20 },
      { pts: B_BOTTOM_LEFT, rot: 20 }, { pts: B_BOTTOM_RIGHT, rot: 20 },
    ],
    labels: B_LABELS, yPad: 16, zero: [2.2, 2],
  },
  {
    canvas: [1150, 1900, 3300, 3480], area: [1363, 1960, 3252, 3378],
    xRange: [-0.2636, 0.1916], yRange: [-9.30, 11.97],
    xMajor: X_MAJOR_C, xText: X_TEXT_C, xMinor: X_MINOR_C,
    yMajor: Y_MAJOR_C, yText: Y_TEXT_C, yMinor: Y_MINOR_C,
    bg: '#EBEBEB',
    series: [
      { pts: C_TOP_LEFT, rot: 20 }, { pts: C_TOP_RIGHT, rot: 20 },
      { pts: C_BOTTOM_LEFT, rot: 20 }, { pts: C_BOTTOM_RIGHT, rot: 20 },
    ],
    labels: C_LABELS, yPad: 18, zero: [3, 1.6],
  },
];

const near = (a: number, b: number) => Math.abs(a - b) < 1e-9;
const textFor = (vals: number[], texts: string[], v: number) => {
  const i = vals.findIndex((t) => near(t, v));
  return i >= 0 ? texts[i] : '';
};
const isIn = (vals: number[], v: number) => vals.some((t) => near(t, v));

function Panel({ def }: { def: PanelDef }) {
  const ref = useRef<HTMLCanvasElement | null>(null);
  const L = Math.round(def.canvas[0] * S);
  const T = Math.round(def.canvas[1] * S);
  const W = Math.round(def.canvas[2] * S) - L;
  const H = Math.round(def.canvas[3] * S) - T;
  const aL = Math.round(def.area[0] * S) - L;
  const aT = Math.round(def.area[1] * S) - T;
  const aR = Math.round(def.area[2] * S) - L;
  const aB = Math.round(def.area[3] * S) - T;

  useEffect(() => {
    if (!ref.current) return;
    const xTicks = [...def.xMajor, ...def.xMinor].sort((a, b) => a - b);
    const yTicks = [...def.yMajor, ...def.yMinor].sort((a, b) => a - b);
    const tickFont = { family: FONT, size: 48 * S };
    const gridCommon = (major: number[]) => ({
      color: '#FFFFFF',
      lineWidth: 4.6 * S,
      drawTicks: true,
      tickLength: 9.5 * S,
      tickWidth: 2.4 * S,
      tickColor: (ctx: any) => (ctx.tick && isIn(major, ctx.tick.value) ? '#333333' : 'rgba(0,0,0,0)'),
    });

    const bgPlugin = {
      id: 'panelBg',
      beforeDraw(chart: any) {
        const { ctx, chartArea: a } = chart;
        ctx.save();
        ctx.fillStyle = def.bg;
        ctx.fillRect(a.left, a.top, a.right - a.left, a.bottom - a.top);
        ctx.restore();
      },
    };
    const zeroPlugin = {
      id: 'zeroLines',
      beforeDatasetsDraw(chart: any) {
        const { ctx, chartArea: a, scales } = chart;
        ctx.save();
        ctx.strokeStyle = '#000000';
        ctx.lineWidth = def.zero[0] * S;
        const py = scales.y.getPixelForValue(0);
        ctx.beginPath(); ctx.moveTo(a.left, py); ctx.lineTo(a.right, py); ctx.stroke();
        ctx.lineWidth = def.zero[1] * S;
        const px = scales.x.getPixelForValue(0);
        ctx.beginPath(); ctx.moveTo(px, a.top); ctx.lineTo(px, a.bottom); ctx.stroke();
        ctx.restore();
      },
    };
    const labelPlugin = {
      id: 'geneLabels',
      afterDatasetsDraw(chart: any) {
        const { ctx, scales } = chart;
        const fs = 41 * S;
        ctx.save();
        ctx.font = `${fs}px ${FONT}`;
        ctx.fillStyle = '#000000';
        ctx.strokeStyle = '#000000';
        ctx.textAlign = 'center';
        ctx.textBaseline = 'middle';
        for (const l of def.labels) {
          const lx = scales.x.getPixelForValue(l.x);
          const ly = scales.y.getPixelForValue(l.y);
          ctx.fillText(l.gene, lx, ly);
          if (l.px !== undefined && l.py !== undefined) {
            const ppx = scales.x.getPixelForValue(l.px);
            const ppy = scales.y.getPixelForValue(l.py);
            const hw = ctx.measureText(l.gene).width / 2 + 2;
            const hh = fs * 0.42;
            const dx = ppx - lx, dy = ppy - ly;
            const t = Math.min(dx !== 0 ? hw / Math.abs(dx) : Infinity, dy !== 0 ? hh / Math.abs(dy) : Infinity);
            if (t < 1) {
              ctx.lineWidth = 2 * S;
              ctx.beginPath();
              ctx.moveTo(lx + dx * t, ly + dy * t);
              ctx.lineTo(ppx, ppy);
              ctx.stroke();
            }
          }
        }
        ctx.restore();
      },
    };

    const chart = new Chart(ref.current, {
      type: 'scatter',
      data: {
        datasets: def.series.map((s) => ({
          data: s.pts.map(([x, y]) => ({ x, y })),
          pointStyle: 'rect',
          rotation: s.rot,
          pointRadius: 7.5 * S,
          pointBackgroundColor: '#000000',
          pointBorderWidth: 0,
          borderWidth: 0,
          showLine: false,
        })),
      },
      options: {
        animation: false,
        responsive: false,
        devicePixelRatio: 1,
        events: [],
        layout: { autoPadding: false, padding: { left: 0, top: aT, right: W - aR, bottom: 0 } },
        plugins: { legend: { display: false }, tooltip: { enabled: false }, title: { display: false } },
        scales: {
          x: {
            type: 'linear',
            position: 'bottom',
            bounds: 'data',
            min: def.xRange[0],
            max: def.xRange[1],
            afterBuildTicks: (sc: any) => { sc.ticks = xTicks.map((v) => ({ value: v })); },
            afterFit: (sc: any) => { sc.height = H - aB; },
            border: { display: false },
            grid: gridCommon(def.xMajor),
            ticks: {
              autoSkip: false, maxRotation: 0, minRotation: 0,
              padding: 15 * S, color: '#000000', font: tickFont,
              callback: (v: any) => textFor(def.xMajor, def.xText, Number(v)),
            },
          },
          y: {
            type: 'linear',
            position: 'left',
            bounds: 'data',
            min: def.yRange[0],
            max: def.yRange[1],
            afterBuildTicks: (sc: any) => { sc.ticks = yTicks.map((v) => ({ value: v })); },
            afterFit: (sc: any) => { sc.width = aL; },
            border: { display: false },
            grid: gridCommon(def.yMajor),
            ticks: {
              autoSkip: false,
              padding: def.yPad * S, color: '#000000', font: tickFont,
              callback: (v: any) => textFor(def.yMajor, def.yText, Number(v)),
            },
          },
        },
      } as any,
      plugins: [bgPlugin, zeroPlugin, labelPlugin],
    } as any);
    return () => chart.destroy();
  }, []);

  return (
    <canvas
      ref={ref}
      width={W}
      height={H}
      style={{ position: 'absolute', left: L, top: T, width: W, height: H }}
    />
  );
}

type TextItem = { text: string; x: number; base: number; size: number; center: boolean };

const TEXTS: TextItem[] = [
  { text: 'A', x: 14, base: 74, size: 80, center: false },
  { text: 'B', x: 2343, base: 74, size: 80, center: false },
  { text: 'C', x: 1175, base: 1936, size: 80, center: false },
  { text: 'Protein-coding RNA', x: 1180, base: 64, size: 50, center: true },
  { text: 'Alternatively spliced RNA', x: 3297, base: 64, size: 50, center: true },
  { text: 'Protein', x: 2289, base: 1926, size: 50, center: true },
  { text: 'Average % methylation change', x: 1160, base: 1712, size: 50, center: true },
  { text: 'Average % methylation change', x: 3373, base: 1690, size: 50, center: true },
  { text: 'Average % methylation change', x: 2307, base: 3527, size: 50, center: true },
];

const Y_TITLES: { x: number; y: number }[] = [
  { x: 32, y: 776 },
  { x: 2278, y: 777 },
  { x: 1228, y: 2582 },
];

export default function App() {
  useEffect(() => {
    document.body.style.margin = '0';
  }, []);
  return (
    <div
      style={{
        position: 'absolute', left: 0, top: 0, width: 4096, height: 3341,
        background: '#FFFFFF', overflow: 'hidden', fontFamily: FONT, color: '#000000',
      }}
    >
      {PANELS.map((p, i) => (
        <Panel key={i} def={p} />
      ))}
      {TEXTS.map((t, i) => {
        const fs = t.size * S;
        return (
          <div
            key={'t' + i}
            style={{
              position: 'absolute',
              left: t.x * S,
              top: t.base * S - 0.8465 * fs,
              fontSize: fs,
              lineHeight: `${fs}px`,
              fontWeight: 'bold',
              whiteSpace: 'nowrap',
              transform: t.center ? 'translateX(-50%)' : undefined,
            }}
          >
            {t.text}
          </div>
        );
      })}
      {Y_TITLES.map((t, i) => {
        const fs = 50 * S;
        return (
          <div
            key={'y' + i}
            style={{
              position: 'absolute',
              left: t.x * S,
              top: t.y * S,
              fontSize: fs,
              lineHeight: `${fs}px`,
              fontWeight: 'bold',
              whiteSpace: 'nowrap',
              transform: 'translate(-50%, -50%) rotate(-90deg)',
            }}
          >
            mRNA log
            <span style={{ fontSize: '0.7em', position: 'relative', top: '0.28em' }}>2</span>
            {' (fold change)'}
          </div>
        );
      })}
    </div>
  );
}
